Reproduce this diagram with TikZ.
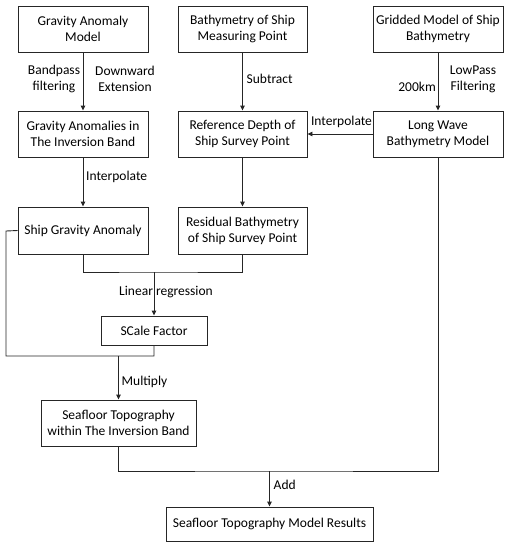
\documentclass[tikz,border=0pt]{standalone}
\usepackage{fontspec}
\setmainfont{Carlito}
\usetikzlibrary{arrows.meta}
\begin{document}
\begin{tikzpicture}[x=1pt,y=-1pt,
  box/.style={draw=black!85, line width=0.9pt, align=center, inner sep=0pt, font=\fontsize{13.5}{16}\selectfont},
  lbl/.style={align=center, inner sep=0pt, font=\fontsize{13.5}{16}\selectfont},
  conn/.style={draw=black!85, line width=0.9pt},
  arr/.style={conn, -{Triangle[length=5pt,width=4.5pt]}}]
\useasboundingbox (0,0) rectangle (509,550);
\node[box, minimum width=130pt, minimum height=46pt] (b1) at (83,29) {Gravity Anomaly\\Model};
\node[box, minimum width=129pt, minimum height=46pt] (b2) at (242.5,29) {Bathymetry of Ship\\Measuring Point};
\node[box, minimum width=130pt, minimum height=46pt] (b3) at (438,29) {Gridded Model of Ship\\Bathymetry};
\node[box, minimum width=130pt, minimum height=46pt] (b4) at (83,134) {Gravity Anomalies in\\The Inversion Band};
\node[box, minimum width=129pt, minimum height=46pt] (b5) at (242.5,134) {Reference Depth of\\Ship Survey Point};
\node[box, minimum width=130pt, minimum height=46pt] (b6) at (438,134) {Long Wave\\Bathymetry Model};
\node[box, minimum width=130pt, minimum height=47pt] (b7) at (83,230.5) {Ship Gravity Anomaly};
\node[box, minimum width=129pt, minimum height=47pt] (b8) at (242.5,230.5) {Residual Bathymetry\\of Ship Survey Point};
\node[box, minimum width=106pt, minimum height=29pt] (b9) at (154,330.5) {SCale Factor};
\node[box, minimum width=155pt, minimum height=46pt] (b10) at (118.5,423) {Seafloor Topography\\within The Inversion Band};
\node[box, minimum width=207pt, minimum height=34pt] (b11) at (269.5,524) {Seafloor Topography Model Results};

\coordinate (j1) at (154,272);
\coordinate (k1) at (6,231);
\coordinate (k2) at (6,356);
\coordinate (j2) at (118.5,356);
\coordinate (j3) at (269.5,471);

\draw[arr] (b1) -- (b4);
\draw[arr] (b2) -- (b5);
\draw[arr] (b3) -- (b6);
\draw[arr] (b6.west) -- (b5.east);
\draw[arr] (b4) -- (b7);
\draw[arr] (b5) -- (b8);
\draw[conn] (b7.south) |- (j1) -| (b8.south);
\draw[arr] (j1) -- (b9.north);
\draw[conn] (b7.west) -- (k1) -- (k2) -| (b9.south);
\draw[arr] (j2) -- (b10.north);
\draw[conn] (b10.south) |- (j3) -| (b6.south);
\draw[arr] (j3) -- (b11.north);

\node[lbl] (l1) at (54,79) {Bandpass\\filtering};
\node[lbl] (l2) at (125,79) {Downward\\Extension};
\node[lbl, anchor=west] (l3) at (246.5,79) {Subtract};
\node[lbl, anchor=east] (l4) at (436,87) {200km};
\node[lbl] (l5) at (473,79) {LowPass\\Filtering};
\node[lbl] (l6) at (341.5,122) {Interpolate};
\node[lbl, anchor=west] (l7) at (86,177) {Interpolate};
\node[lbl] (l8) at (166,292) {Linear regression};
\node[lbl, anchor=west] (l9) at (121.5,382) {Multiply};
\node[lbl, anchor=west] (l10) at (273.5,485) {Add};
\end{tikzpicture}
\end{document}
